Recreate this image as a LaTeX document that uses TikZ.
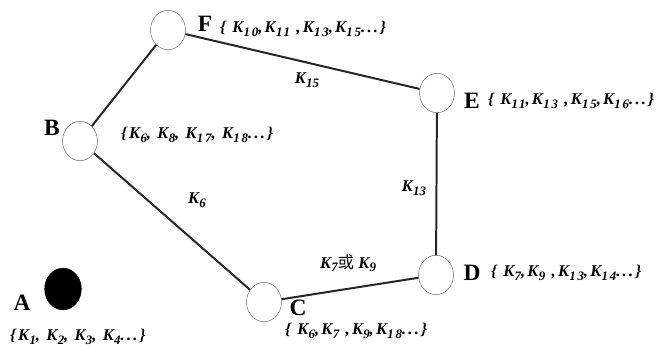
\documentclass[tikz,border=0pt]{standalone}
\usepackage{fontspec}
\setmainfont{Liberation Serif}
\newfontfamily\cjk{Noto Sans CJK SC}
\usetikzlibrary{shapes.geometric, positioning}
\newcommand{\ks}[1]{K\kern0.3pt\raisebox{-0.45ex}{\fontsize{11}{12}\selectfont #1}}

\tikzset{
  site/.style    = {draw = black!60, ellipse, minimum width = 1.05cm, minimum height = 1.18cm, inner sep = 0pt, fill = white},
  hole/.style    = {site, draw = black, fill = black, minimum width = 1.1cm, minimum height = 1.25cm},
  letter/.style  = {font = \fontsize{20}{22}\selectfont\bfseries, inner sep = 0pt},
  keyset/.style  = {font = \fontsize{14}{16}\selectfont\bfseries\itshape\addfontfeature{LetterSpace=14}, inner sep = 0pt, anchor = west},
  link/.style    = {line width = 1.7pt, black!85},
  linklab/.style = {font = \fontsize{14}{16}\selectfont\bfseries\itshape, inner sep = 0pt}
}

\begin{document}
\begin{tikzpicture}[x=0.03cm, y=-0.03cm]
\useasboundingbox (0,0) rectangle (658,356);

% the nodes of the ring
\node[site] (f) at (168,30) {};
\node[site] (e) at (437,93) {};
\node[site] (b) at (80,141) {};
\node[site] (c) at (264,302) {};
\node[site] (d) at (436,275) {};
\node[hole] (a) at (63,289) {};

% links
\draw[link] (b) -- (f);
\draw[link] (f) -- (e);
\draw[link] (e) -- (d);
\draw[link] (d) -- (c);
\draw[link] (c) -- (b);

% names
\node[letter] (fname) at (205,24) {F};
\node[letter] (ename) at (472,101) {E};
\node[letter] (bname) at (52,128) {B};
\node[letter] (dname) at (472,273) {D};
\node[letter] (cname) at (298,308) {C};
\node[letter] (aname) at (22,303) {A};

% key sets
\node[keyset] (fset) at (220,29) {\{ \ks{10},\ks{11} ,\ks{13},\ks{15}...\}};
\node[keyset] (eset) at (488,101) {\{ \ks{11},\ks{13} ,\ks{15},\ks{16}...\}};
\node[keyset] (bset) at (121,135) {\{\ks{6}, \ks{8}, \ks{17}, \ks{18}...\}};
\node[keyset] (dset) at (491,273) {\{ \ks{7},\ks{9} ,\ks{13},\ks{14}...\}};
\node[keyset] (cset) at (285,331) {\{ \ks{6},\ks{7} ,\ks{9},\ks{18}...\}};
\node[keyset] (aset) at (10,337) {\{\ks{1}, \ks{2}, \ks{3}, \ks{4}...\}};

% link labels
\node[linklab] (l15) at (307,80) {\ks{15}};
\node[linklab] (l6) at (197,200) {\ks{6}};
\node[linklab] (l13) at (414,188) {\ks{13}};
\node[linklab] (l79) at (348,263) {\ks{7}{\cjk\mdseries\upshape 或}\ \ks{9}};
\end{tikzpicture}
\end{document}
